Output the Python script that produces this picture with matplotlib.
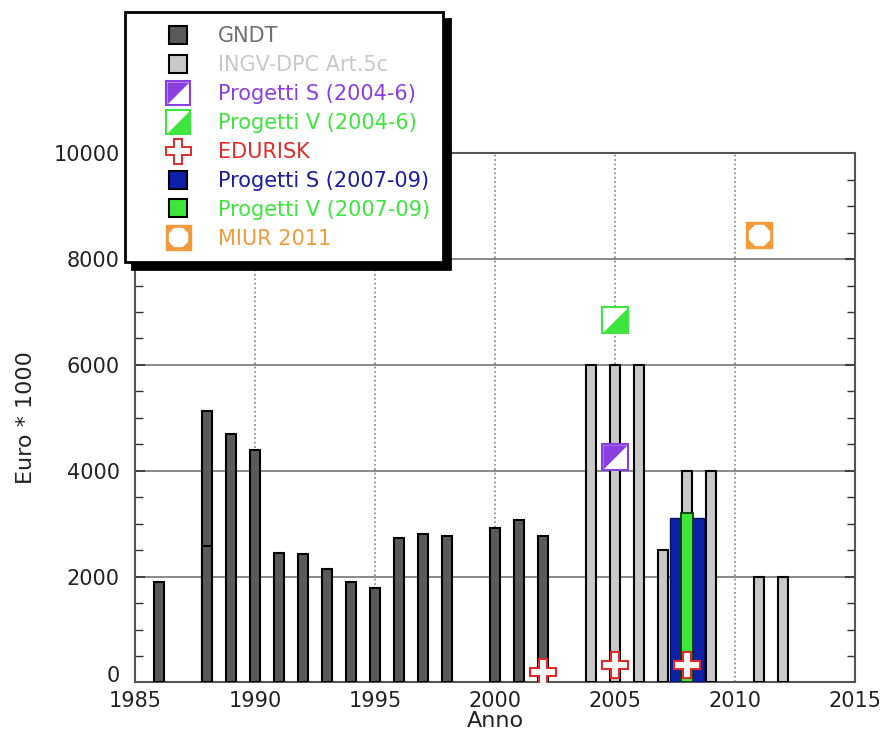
import numpy as np
import matplotlib
matplotlib.use('Agg')
import matplotlib.pyplot as plt
import matplotlib.transforms as mtransforms
from matplotlib.lines import Line2D
from matplotlib.legend_handler import HandlerTuple
from matplotlib.ticker import MultipleLocator

# --- data (Euro * 1000) ---
gndt_years = [1986, 1988, 1989, 1990, 1991, 1992, 1993, 1994, 1995, 1996, 1997, 1998, 2000, 2001, 2002]
gndt_values = [1900, 5130, 4690, 4390, 2450, 2420, 2150, 1890, 1780, 2720, 2800, 2760, 2910, 3060, 2760]
gndt_1988_part = 2570  # lower segment of the 1988 bar

ingv_years = [2004, 2005, 2006, 2007, 2008, 2009, 2011, 2012]
ingv_values = [6000, 6000, 6000, 2500, 4000, 4000, 2000, 2000]

ps0406_year, ps0406_value = 2005, 4260
pv0406_year, pv0406_value = 2005, 6840

edurisk_years = [2002, 2005, 2008]
edurisk_values = [200, 330, 320]

ps0709_year, ps0709_value = 2008, 3110
pv0709_year, pv0709_value = 2008, 3200

miur_year, miur_value = 2011, 8450

# colours
c_gndt = '#5a5a5a'
c_ingv = '#c8c8c8'
c_purple = '#8a3fe0'
c_green = '#3ce63c'
c_red = '#e02b2b'
c_blue = '#0b22a8'
c_orange = '#f29a3a'

plt.rcParams['font.family'] = 'DejaVu Sans'

fig = plt.figure(figsize=(8.83, 7.33), dpi=100)
ax = fig.add_axes([0.153, 0.069, 0.815, 0.722])

# bars
bw = 0.42
ax.bar(gndt_years, gndt_values, width=bw, color=c_gndt, edgecolor='black', lw=1.5, zorder=3)
ax.bar([1988], [gndt_1988_part], width=bw, color=c_gndt, edgecolor='black', lw=1.5, zorder=3)
ax.bar(ingv_years, ingv_values, width=bw, color=c_ingv, edgecolor='black', lw=1.5, zorder=3)
ax.bar([ps0709_year], [ps0709_value], width=1.4, color=c_blue, edgecolor='#06105a', lw=1, zorder=4)
ax.bar([pv0709_year], [pv0709_value], width=0.5, color=c_green, edgecolor='#0a3a0a', lw=1.3, zorder=5)

# half-filled square markers
tri_ul = [(-1, -1), (1, 1), (-1, 1), (-1, -1)]
tri_lr = [(-1, -1), (1, -1), (1, 1), (-1, -1)]
ms = 19
ax.plot(ps0406_year, ps0406_value, marker='s', ms=ms, mfc='white', mec=c_purple, mew=1.5, zorder=6)
ax.plot(ps0406_year, ps0406_value, marker=tri_ul, ms=ms * 0.93, mfc=c_purple, mec=c_purple, mew=0, zorder=7)
ax.plot(pv0406_year, pv0406_value, marker='s', ms=ms, mfc='white', mec=c_green, mew=1.5, zorder=6)
ax.plot(pv0406_year, pv0406_value, marker=tri_lr, ms=ms * 0.93, mfc=c_green, mec=c_green, mew=0, zorder=7)

# EDURISK crosses
ax.plot(edurisk_years, edurisk_values, ls='none', marker='P', ms=19, mfc='white', mec=c_red, mew=1.5, zorder=8)

# MIUR
ax.plot(miur_year, miur_value, marker='s', ms=19, mfc=c_orange, mec=c_orange, zorder=6)
ax.plot(miur_year, miur_value, marker='8', ms=15, mfc='white', mec='white', zorder=7)

# axes formatting
ax.set_xlim(1985, 2015)
ax.set_ylim(0, 10000)
ax.set_xticks([1985, 1990, 1995, 2000, 2005, 2010, 2015])
ax.set_yticks([0, 2000, 4000, 6000, 8000, 10000])
ax.yaxis.set_minor_locator(MultipleLocator(500))
ax.set_axisbelow(True)
ax.yaxis.grid(True, color='#808080', ls='-', lw=1.3)
ax.xaxis.grid(True, color='#808080', ls=':', lw=1.2)
ax.tick_params(axis='both', which='both', direction='in', right=True, top=False,
               labelsize=15, colors='#333333', labelcolor='#222222')
ax.tick_params(axis='y', which='major', length=7, width=1.2, pad=11)
ax.tick_params(axis='y', which='minor', length=6, width=1)
ax.tick_params(axis='x', which='major', length=0, pad=6)
for s in ax.spines.values():
    s.set_color('#555555')
    s.set_linewidth(1.5)
ax.set_xlabel('Anno', fontsize=16, labelpad=0, color='#222222')
ax.set_ylabel('Euro * 1000', fontsize=16, labelpad=13, color='#222222')

# lift the "0" label a little so it clears "1985"
zero_lbl = ax.yaxis.get_major_ticks()[0].label1
zero_lbl.set_transform(zero_lbl.get_transform() +
                       mtransforms.ScaledTranslation(0, 6 / 72, fig.dpi_scale_trans))

# legend
sq = dict(ls='none', marker='s', ms=13, mec='black', mew=1.5)
h_gndt = Line2D([], [], mfc=c_gndt, **sq)
h_ingv = Line2D([], [], mfc=c_ingv, **sq)
h_ps = (Line2D([], [], ls='none', marker='s', ms=17, mfc='white', mec=c_purple, mew=1.5),
        Line2D([], [], ls='none', marker=tri_ul, ms=16, mfc=c_purple, mec=c_purple, mew=0))
h_pv = (Line2D([], [], ls='none', marker='s', ms=17, mfc='white', mec=c_green, mew=1.5),
        Line2D([], [], ls='none', marker=tri_lr, ms=16, mfc=c_green, mec=c_green, mew=0))
h_edu = Line2D([], [], ls='none', marker='P', ms=18, mfc='white', mec=c_red, mew=1.4)
h_ps2 = Line2D([], [], mfc=c_blue, **sq)
h_pv2 = Line2D([], [], mfc=c_green, **sq)
h_miur = (Line2D([], [], ls='none', marker='s', ms=18, mfc=c_orange, mec=c_orange),
          Line2D([], [], ls='none', marker='8', ms=14, mfc='white', mec='white'))

labels = ['GNDT', 'INGV-DPC Art.5c', 'Progetti S (2004-6)', 'Progetti V (2004-6)',
          'EDURISK', 'Progetti S (2007-09)', 'Progetti V (2007-09)', 'MIUR 2011']
label_colors = ['#707070', '#c8c8c8', c_purple, c_green, c_red, '#1c1c9c', c_green, c_orange]

leg = fig.legend([h_gndt, h_ingv, h_ps, h_pv, h_edu, h_ps2, h_pv2, h_miur], labels,
                 handler_map={tuple: HandlerTuple(ndivide=1, pad=0)},
                 loc='upper left', bbox_to_anchor=(0.1416, 0.983),
                 fontsize=15, frameon=True, fancybox=False,
                 shadow={'color': 'black', 'alpha': 1, 'ox': 5, 'oy': -5},
                 labelspacing=0.43, handlelength=3.8, handletextpad=0.0,
                 borderpad=0.65, borderaxespad=0)
leg.get_frame().set_edgecolor('black')
leg.get_frame().set_linewidth(2)
for t, c in zip(leg.get_texts(), label_colors):
    t.set_color(c)
leg.set_zorder(20)

fig.savefig('out.png', dpi=100)
